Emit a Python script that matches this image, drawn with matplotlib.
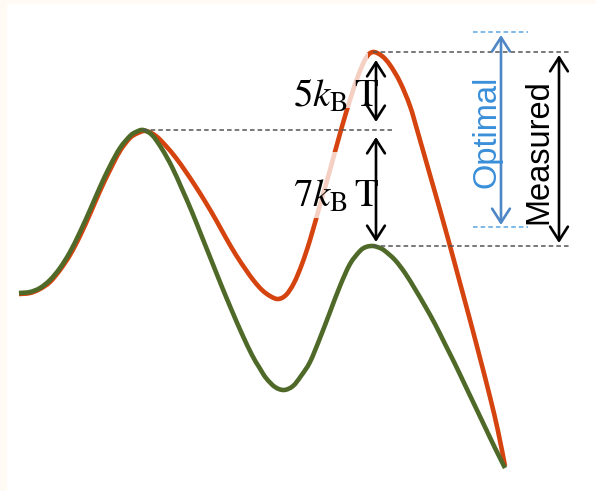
import numpy as np
import matplotlib
matplotlib.use('Agg')
import matplotlib.pyplot as plt
from matplotlib.patches import Rectangle, PathPatch
from matplotlib.path import Path

plt.rcParams['mathtext.fontset'] = 'stix'

# energy profiles (x = reaction coordinate, y = energy, downward)
x_red = [19, 30, 40, 50, 60, 70, 80, 90, 100, 110, 120, 130, 138, 146, 156, 166, 176, 186, 196, 206,
         216, 226, 236, 246, 254, 262, 270, 278, 286, 294, 302, 310, 320, 330, 341, 350, 358, 366, 373,
         382, 390, 400, 410, 418, 430, 440, 450, 460, 470, 480, 490, 498, 505]
y_red = [294, 293, 289, 282, 270, 255, 236, 214, 191, 170, 151, 138, 133, 131, 136, 146, 158, 172, 187, 203,
         220, 238, 255, 270, 281, 290, 296, 299, 295, 283, 264, 240, 205, 170, 130, 100, 76, 58, 52,
         56, 65, 82, 106, 133, 175, 210, 246, 283, 320, 358, 397, 431, 466]

x_green = [19, 30, 40, 50, 60, 70, 80, 90, 100, 110, 120, 130, 136, 143, 152, 162, 172, 182, 192, 202,
           212, 222, 232, 242, 252, 259, 266, 275, 284, 293, 301, 310, 320, 330, 340, 350, 360, 366, 373,
           380, 385, 395, 405, 415, 425, 435, 445, 455, 465, 475, 485, 495, 505]
y_green = [293, 292, 288, 280, 268, 252, 232, 210, 187, 166, 148, 136, 132, 130, 135, 149, 167, 189, 212, 237,
           262, 287, 311, 334, 355, 367, 378, 387, 390, 386, 376, 362, 338, 312, 286, 264, 251, 247, 246,
           248, 251, 260, 273, 289, 306, 324, 344, 364, 385, 406, 427, 448, 468]

label_small = r'$5k_{\mathrm{B}}\,\mathrm{T}$'
label_large = r'$7k_{\mathrm{B}}\,\mathrm{T}$'
label_opt = 'Optimal'
label_meas = 'Measured'

red = '#d5430f'
green = '#4f6a28'
blue_txt = '#3a8fd9'
blue_arr = '#4f86c6'

first_peak = min(y_green)
red_peak = min(y_red)
green_peak2 = min(y for x, y in zip(x_green, y_green) if x > 300)
x_first = x_green[y_green.index(first_peak)]
x_second = x_red[y_red.index(red_peak)]


def smooth_path(xs, ys):
    # Catmull-Rom through the read points, drawn as cubic Bezier segments
    p = np.column_stack([xs, ys]).astype(float)
    verts = [p[0]]
    codes = [Path.MOVETO]
    n = len(p)
    for i in range(n - 1):
        p0 = p[max(i - 1, 0)]
        p1, p2 = p[i], p[i + 1]
        p3 = p[min(i + 2, n - 1)]
        verts += [p1 + (p2 - p0) / 6, p2 - (p3 - p1) / 6, p2]
        codes += [Path.CURVE4] * 3
    return Path(verts, codes)


fig = plt.figure(figsize=(5.96, 4.91), dpi=100)
fig.patch.set_facecolor('#fffaf3')
fig.add_artist(Rectangle((7 / 596, 0), 1, 487 / 491, transform=fig.transFigure,
                         facecolor='white', edgecolor='none', zorder=0))

ax = fig.add_axes([0, 0, 1, 1])
ax.set_xlim(0, 596)
ax.set_ylim(491, 0)
ax.axis('off')
ax.patch.set_alpha(0)

ax.add_patch(PathPatch(smooth_path(x_red, y_red), facecolor='none', edgecolor=red,
                       lw=3.3, joinstyle='round', zorder=2))
ax.add_patch(PathPatch(smooth_path(x_green, y_green), facecolor='none', edgecolor=green,
                       lw=3.3, joinstyle='round', zorder=3))

# label boxes that wash out the curve behind them
ax.add_patch(Rectangle((285, 53), 83, 55, facecolor='white', edgecolor='none', alpha=0.75, zorder=4))
ax.add_patch(Rectangle((285, 152), 83, 66, facecolor='white', edgecolor='none', alpha=0.75, zorder=4))

# dashed reference levels
dash = dict(color='#555555', lw=1.1, linestyles=(0, (3, 2)), zorder=5)
ax.hlines(first_peak, x_first, 393, **dash)
ax.hlines(red_peak, x_second, 570, **dash)
ax.hlines(green_peak2, x_second, 570, **dash)
ax.hlines([32, 227], 473, 528, color='#5ba5e2', lw=1.1, linestyles=(0, (3, 2)), zorder=5)


def darrow(x, y0, y1, color, lw=1.9):
    ax.annotate('', xy=(x, y0), xytext=(x, y1),
                arrowprops=dict(arrowstyle='<->,head_length=0.5,head_width=0.32',
                                lw=lw, color=color, shrinkA=0, shrinkB=0,
                                mutation_scale=20), zorder=6)


darrow(376, red_peak + 8, first_peak - 8, 'black')
darrow(376, first_peak + 7, green_peak2 - 4, 'black')
darrow(501, 35, 225, blue_arr)
darrow(559, red_peak + 3, green_peak2 - 3, 'black')

ax.text(293, 107, label_small, fontsize=28, ha='left', va='baseline', zorder=7)
ax.text(293, 207, label_large, fontsize=28, ha='left', va='baseline', zorder=7)
ax.text(487, 132, label_opt, rotation=90, fontsize=23.5, color=blue_txt,
        family='Liberation Sans', ha='center', va='center', zorder=7)
ax.text(539, 152, label_meas, rotation=90, fontsize=23.5, color='black',
        family='Liberation Sans', ha='center', va='center', zorder=7)

fig.savefig('out.png', dpi=100, facecolor=fig.get_facecolor())
